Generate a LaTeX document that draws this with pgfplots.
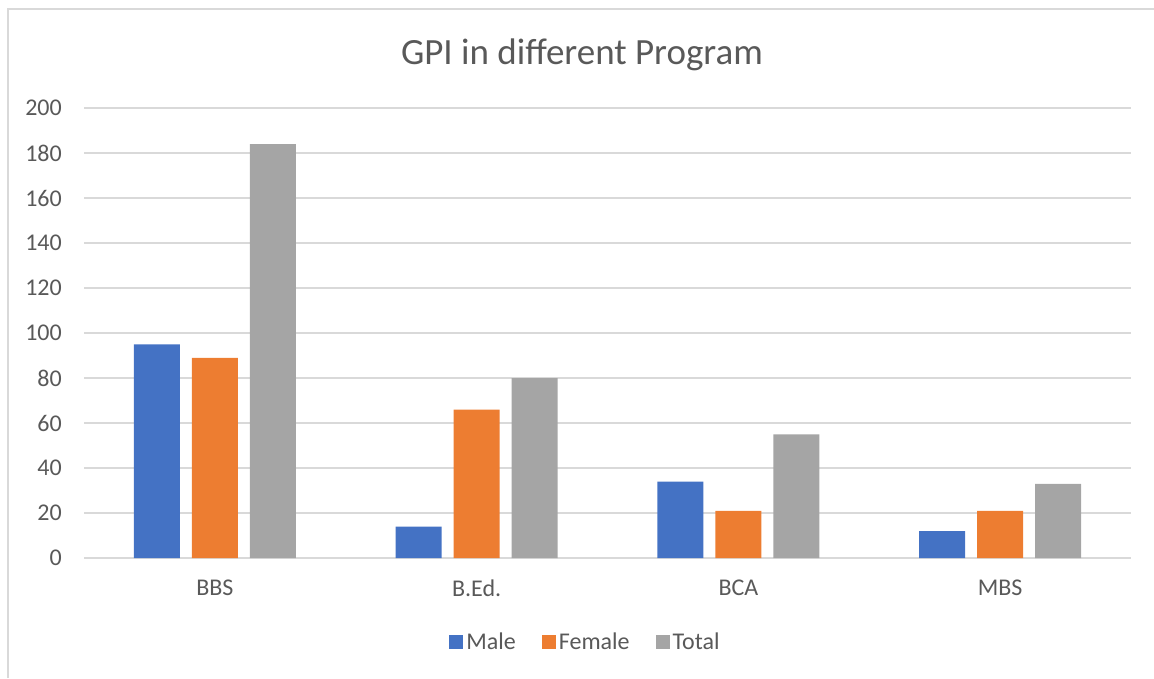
\documentclass[border=0pt]{standalone}
\usepackage{fontspec}
\setmainfont{Carlito}
\usepackage{pgfplots}
\pgfplotsset{compat=1.18}
\definecolor{cblue}{HTML}{4472C4}
\definecolor{corange}{HTML}{ED7D31}
\definecolor{cgray}{HTML}{A5A5A5}
\definecolor{ctext}{HTML}{595959}
\definecolor{cgrid}{HTML}{D9D9D9}
\begin{document}
\begin{tikzpicture}
\path[use as bounding box] (0,0) rectangle (1154pt,-678pt);
\draw[cgrid, line width=1.5pt] (8pt,-678pt) -- (8pt,-9pt) -- (1154pt,-9pt);
\begin{axis}[
  at={(84pt,-558pt)}, anchor=south west,
  scale only axis, width=1047pt, height=450pt,
  xmin=-0.5, xmax=3.5, ymin=0, ymax=200,
  ybar=12pt, bar width=46pt,
  xtick={0,1,2,3}, xticklabels={BBS,B.Ed.,BCA,MBS},
  ytick={0,20,...,200},
  axis line style={draw=none},
  major tick length=0pt,
  ymajorgrids, grid style={cgrid, line width=1.5pt},
  /pgf/number format/assume math mode=true,
  tick label style={font=\fontsize{24}{28}\selectfont, text=ctext},
  yticklabel style={inner sep=0pt, anchor=east, xshift=-22pt},
  xticklabel style={inner sep=0pt, anchor=north, yshift=-22pt},
  title={GPI in different Program},
  title style={font=\fontsize{37}{42}\selectfont, text=ctext, anchor=base, at={(axis description cs:0.4756,1.0844)}, inner sep=0pt},
  legend style={draw=none, at={(axis description cs:0.4795,-0.1867)}, anchor=center,
    legend columns=-1, font=\fontsize{24}{28}\selectfont, text=ctext,
    /tikz/every even column/.append style={column sep=23pt},
    nodes={inner sep=3pt}},
  legend image code/.code={\fill[#1] (-2pt,-7pt) rectangle (12pt,7pt);},
  every axis plot/.append style={draw=none},
]
\addplot[fill=cblue] coordinates {(0,95) (1,14) (2,34) (3,12)};
\addplot[fill=corange] coordinates {(0,89) (1,66) (2,21) (3,21)};
\addplot[fill=cgray] coordinates {(0,184) (1,80) (2,55) (3,33)};
\legend{Male,Female,Total}
\end{axis}
\end{tikzpicture}
\end{document}
